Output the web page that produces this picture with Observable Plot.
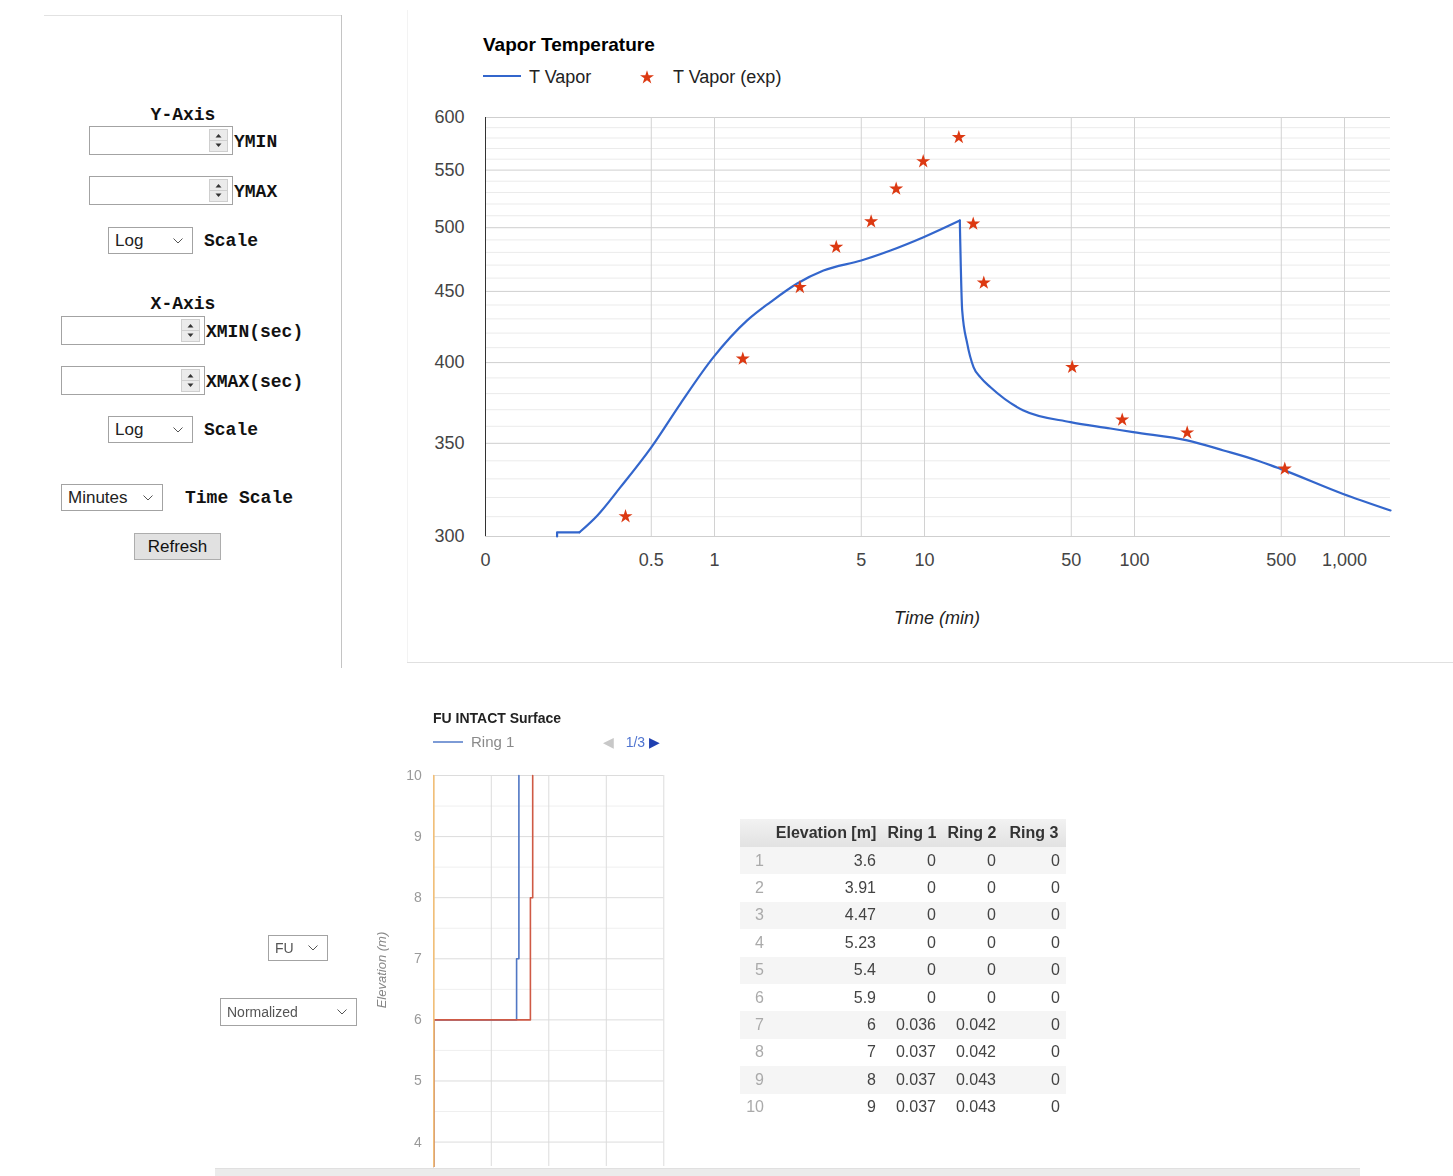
<!DOCTYPE html>
<html>
<head>
<meta charset="utf-8">
<script src="https://cdn.jsdelivr.net/npm/d3@7"></script>
<script src="https://cdn.jsdelivr.net/npm/@observablehq/plot@0.6"></script>
<style>
  body { margin: 0; background: #fff; width: 1453px; height: 1176px; position: relative; overflow: hidden;
         font-family: "Liberation Sans", Arial, sans-serif; }
  .abs { position: absolute; white-space: nowrap; }
  .mono { position: absolute; font-family: "Liberation Mono", "Courier New", monospace; font-weight: bold;
          font-size: 18px; line-height: 20px; color: #111; white-space: nowrap; }
  .field { position: absolute; box-sizing: border-box; border: 1px solid #a3a3a3; background: #fff; }
  .sel { position: absolute; box-sizing: border-box; border: 1px solid #a3a3a3; background: #fff;
         font-size: 17px; color: #222; padding-left: 6px; display: flex; align-items: center; }
  .sel svg { position: absolute; right: 9px; top: 50%; margin-top: -3px; }
  .btn { position: absolute; box-sizing: border-box; border: 1px solid #adadad; background: #e1e1e1;
         font-size: 17px; color: #111; display: flex; align-items: center; justify-content: center; }
  .soft { filter: blur(0.6px); }
  #tbl { position: absolute; left: 740px; top: 819px; border-collapse: collapse; font-size: 16px; color: #444; }
  #tbl th { height: 28px; padding: 0 5px; font-weight: bold; color: #333; text-align: center;
            background: linear-gradient(#f2f2f2, #e2e2e2); }
  #tbl td { height: 27.4px; padding: 0 6px; text-align: right; }
  #tbl tr.odd td { background: #f5f5f5; }
  #tbl td.rn { color: #aaa; width: 18px; }
</style>
</head>
<body>
<div id="page"></div>
<script>
// ---------- Vapor temperature series (time in minutes, temperature) ----------
const vaporTime = [0.178, 0.178, 0.2276, 0.2763, 0.3567, 0.501, 0.689, 0.989, 1.431, 1.848,
                   2.476, 3.304, 4.996, 6.887, 9.89, 14.73, 15.12, 15.97, 17.12, 18.48,
                   20.63, 29.61, 49.57, 76.86, 98.6, 178.2, 265.4, 384.0, 495.7, 978.4, 1656];
const vaporTemp = [300, 302.1, 302.1, 310.5, 325.5, 347.8, 373.8, 403.6, 428.9, 442.1,
                   455.9, 465.8, 473.6, 481.5, 492.2, 506.0, 436.0, 412.9, 397.0, 390.3,
                   384.0, 369.5, 362.5, 358.7, 356.5, 351.7, 345.9, 340.2, 335.5, 322.0, 313.2];

// Experimental vapor temperature
const expTime = [0.377, 1.364, 2.55, 3.80, 5.57, 7.33, 9.86, 14.57, 17.06, 19.16, 50.5, 87.4, 178.2, 519.6];
const expTemp = [310.1, 402.5, 453.1, 484.2, 505.1, 533.2, 557.9, 580.7, 503.2, 456.4, 397.0, 363.9, 356.2, 335.5];

// Axis ticks
const timeTicks = [0, 0.5, 1, 5, 10, 50, 100, 500, 1000];
const tempTicks = [300, 350, 400, 450, 500, 550, 600];
const tempMinor = [310, 320, 330, 340, 360, 370, 380, 390, 410, 420, 430, 440, 460, 470, 480, 490,
                   510, 520, 530, 540, 560, 570, 580, 590];

// ---------- Fuel intact surface profile ----------
const elevation = [3.6, 3.91, 4.47, 5.23, 5.4, 5.9, 6, 7, 8, 9, 10];
const ring1 = [0, 0, 0, 0, 0, 0, 0.036, 0.037, 0.037, 0.037, 0.037];
const ring2 = [0, 0, 0, 0, 0, 0, 0.042, 0.042, 0.043, 0.043, 0.043];
const ring3 = [0, 0, 0, 0, 0, 0, 0, 0, 0, 0, 0];
const elevTicks = [4, 5, 6, 7, 8, 9, 10];
const elevMinor = [4.5, 5.5, 6.5, 7.5, 8.5, 9.5];
const fracGrid = [0, 0.025, 0.05, 0.075, 0.1];

const FONT = '"Liberation Sans", Arial, sans-serif';
const page = document.getElementById("page");

function place(el, css) { Object.assign(el.style, css); page.appendChild(el); return el; }
function div(cls, html, css) { const d = document.createElement("div"); d.className = cls; d.innerHTML = html; return place(d, css); }
function line(left, top, w, h, color, extra) { return div("abs", "", Object.assign({left: left + "px", top: top + "px", width: w + "px", height: h + "px", background: color}, extra || {})); }

const chevron = '<svg width="10" height="6"><polyline points="0.5,0.5 5,5 9.5,0.5" fill="none" stroke="#555" stroke-width="1"/></svg>';
const spinner = '<svg width="19" height="23"><rect x="0.5" y="0.5" width="18" height="22" fill="#ebebeb" stroke="#cfcfcf"/>' +
  '<line x1="1" x2="18" y1="11.5" y2="11.5" stroke="#cfcfcf"/>' +
  '<path d="M6.5,8.5 L12.5,8.5 L9.5,5 Z" fill="#333"/><path d="M6.5,14.5 L12.5,14.5 L9.5,18 Z" fill="#333"/></svg>';

// ---------- Left control panel ----------
line(44, 15, 297, 1, "#e2e2e2");
line(341, 15, 1, 653, "#c4c4c4");
line(407, 10, 1, 652, "#f3f3f3");
line(407, 662, 1046, 1, "#e0e0e0");

function numberField(left, top, label) {
  div("field", "", {left: left + "px", top: top + "px", width: "144px", height: "29px"});
  div("abs", spinner, {left: (left + 120) + "px", top: (top + 3) + "px", width: "19px", height: "23px"});
  div("mono", label, {left: (left + 145) + "px", top: (top + 6) + "px"});
}
function select(left, top, w, h, text, fs) {
  return div("sel", text + chevron, {left: left + "px", top: top + "px", width: w + "px", height: h + "px", fontSize: (fs || 17) + "px"});
}
div("mono", "Y-Axis", {left: "123px", top: "105px", width: "120px", textAlign: "center"});
numberField(89, 126, "YMIN");
numberField(89, 176, "YMAX");
select(108, 227, 85, 27, "Log");
div("mono", "Scale", {left: "204px", top: "231px"});
div("mono", "X-Axis", {left: "123px", top: "294px", width: "120px", textAlign: "center"});
numberField(61, 316, "XMIN(sec)");
numberField(61, 366, "XMAX(sec)");
select(108, 416, 85, 27, "Log");
div("mono", "Scale", {left: "204px", top: "420px"});
select(61, 484, 102, 27, "Minutes");
div("mono", "Time Scale", {left: "185px", top: "488px"});
div("btn", "Refresh", {left: "134px", top: "533px", width: "87px", height: "27px"});

// ---------- Vapor temperature chart ----------
const X_ZERO = 0.0812, X_END = 1656;
const fmt = d3.format(",");
const vapor = vaporTime.map((t, i) => ({t, T: vaporTemp[i]}));
const exp = expTime.map((t, i) => ({t, T: expTemp[i]}));
const PEAK = vaporTemp.indexOf(d3.max(vaporTemp));

div("abs", "Vapor Temperature", {left: "483px", top: "34px", fontSize: "19px", fontWeight: "bold", color: "#000", lineHeight: "22px"});
line(483, 75, 38, 2.4, "#3366cc");
div("abs", "T Vapor", {left: "529px", top: "66px", fontSize: "18px", color: "#222", lineHeight: "22px"});
const starPath = d3.symbol(d3.symbolStar, Math.PI * 4.4 * 4.4)();
div("abs", `<svg width="20" height="20"><path transform="translate(10,10.5)" d="${starPath}" fill="#dc3912"/></svg>`,
    {left: "637px", top: "67px"});
div("abs", "T Vapor (exp)", {left: "673px", top: "66px", fontSize: "18px", color: "#222", lineHeight: "22px"});

const vaporLine = {x: "t", y: "T", stroke: "#3366cc", strokeWidth: 2.2};
const main = Plot.plot({
  width: 1053, height: 660,
  marginLeft: 85, marginRight: 63, marginTop: 117, marginBottom: 124,
  style: {fontFamily: FONT, fontSize: "18px", color: "#444", background: "transparent", overflow: "visible"},
  x: {type: "log", domain: [X_ZERO, X_END], axis: null},
  y: {type: "log", domain: [300, 600]},
  marks: [
    Plot.ruleY(tempMinor, {stroke: "#ebebeb"}),
    Plot.ruleY(tempTicks, {stroke: "#cfcfcf"}),
    Plot.ruleX(timeTicks.filter(v => v > 0), {stroke: "#d2d2d2"}),
    Plot.ruleX([X_ZERO], {stroke: "#333"}),
    // initial step, heat-up branch and cool-down branch (split at the peak to keep it sharp)
    Plot.line(vapor.slice(0, 3), vaporLine),
    Plot.line(vapor.slice(2, PEAK + 1), {...vaporLine, curve: "monotone-x"}),
    Plot.line(vapor.slice(PEAK), {...vaporLine, curve: "monotone-x"}),
    Plot.dot(exp, {x: "t", y: "T", symbol: "star", r: 4.4, fill: "#dc3912"}),
    Plot.axisY(tempTicks, {tickSize: 0, tickPadding: 21, tickFormat: d => String(d), label: null}),
    // time labels; the origin tick sits at the left edge of the log range
    Plot.text(timeTicks, {x: v => v === 0 ? X_ZERO : v, text: v => v === 0 ? "0" : fmt(v),
                          frameAnchor: "bottom", dy: 29, fill: "#444"})
  ]
});
place(main, {position: "absolute", left: "400px", top: "0px"});
div("abs", "Time (min)", {left: "837px", top: "607px", width: "200px", textAlign: "center", fontSize: "18px",
                          fontStyle: "italic", color: "#222", lineHeight: "22px"});

// ---------- Fuel intact surface chart ----------
const rows = elevation.map((e, i) => ({elev: e, ring1: ring1[i], ring2: ring2[i], ring3: ring3[i]}));

div("abs soft", "FU INTACT Surface", {left: "433px", top: "710px", fontSize: "14px", fontWeight: "bold", color: "#222", lineHeight: "16px"});
line(433, 741, 30, 2, "#7d9bd6", {filter: "blur(0.6px)"});
div("abs soft", "Ring 1", {left: "471px", top: "733px", fontSize: "15px", color: "#8a8a8a", lineHeight: "18px"});
div("abs soft", '<span style="color:#c8c8c8">&#9664;</span>&nbsp;&nbsp; <span style="color:#4f74d0">1/3</span> <span style="color:#1f3fb0">&#9654;</span>',
    {left: "603px", top: "733px", fontSize: "14px", lineHeight: "18px"});

const profile = Plot.plot({
  width: 320, height: 410,
  marginLeft: 73.3, marginRight: 16.7, marginTop: 15, marginBottom: 4,
  style: {fontFamily: FONT, fontSize: "14px", color: "#9a9a9a", background: "transparent", overflow: "visible"},
  x: {domain: [0, 0.1], axis: null},
  y: {domain: [3.6, 10]},
  marks: [
    Plot.ruleY(elevMinor, {stroke: "#efefef"}),
    Plot.ruleY(elevTicks, {stroke: "#dcdcdc"}),
    Plot.ruleX(fracGrid, {stroke: "#dcdcdc"}),
    Plot.line(rows, {x: "ring1", y: "elev", curve: "step-before", stroke: "#5077c4", strokeWidth: 1.6}),
    Plot.line(rows, {x: "ring2", y: "elev", curve: "step-before", stroke: "#cf5a45", strokeWidth: 1.6}),
    Plot.line(rows, {x: "ring3", y: "elev", curve: "step-before", stroke: "#f2bf78", strokeWidth: 1.6}),
    Plot.axisY(elevTicks, {tickSize: 0, tickPadding: 12, tickFormat: d => String(d), label: null})
  ]
});
profile.classList.add("soft");
place(profile, {position: "absolute", left: "360px", top: "760px"});
div("abs soft", "Elevation (m)", {left: "332px", top: "962px", width: "100px", textAlign: "center", fontSize: "13px",
                                  fontStyle: "italic", color: "#888", lineHeight: "16px", transform: "rotate(-90deg)"});

// selectors beside the profile
for (const s of [select(268, 935, 60, 26, "FU", 14), select(220, 998, 137, 28, "Normalized", 14)]) {
  s.classList.add("soft");
  s.style.color = "#555";
}

// ---------- Data table (first page of rows) ----------
const shown = 10;
const tbl = document.createElement("table");
tbl.id = "tbl";
tbl.className = "soft";
let html = "<tr><th></th><th>Elevation [m]</th><th>Ring 1</th><th>Ring 2</th><th>Ring 3</th></tr>";
for (let i = 0; i < shown; i++) {
  html += `<tr class="${i % 2 === 0 ? "odd" : "even"}"><td class="rn">${i + 1}</td>` +
          `<td style="width:100px">${elevation[i]}</td><td style="width:48px">${ring1[i]}</td>` +
          `<td style="width:48px">${ring2[i]}</td><td style="width:52px">${ring3[i]}</td></tr>`;
}
tbl.innerHTML = html;
page.appendChild(tbl);

// horizontal scroll bar along the bottom edge
line(215, 1168, 1145, 8, "#ebebeb", {borderTop: "1px solid #e0e0e0"});
</script>
</body>
</html>
